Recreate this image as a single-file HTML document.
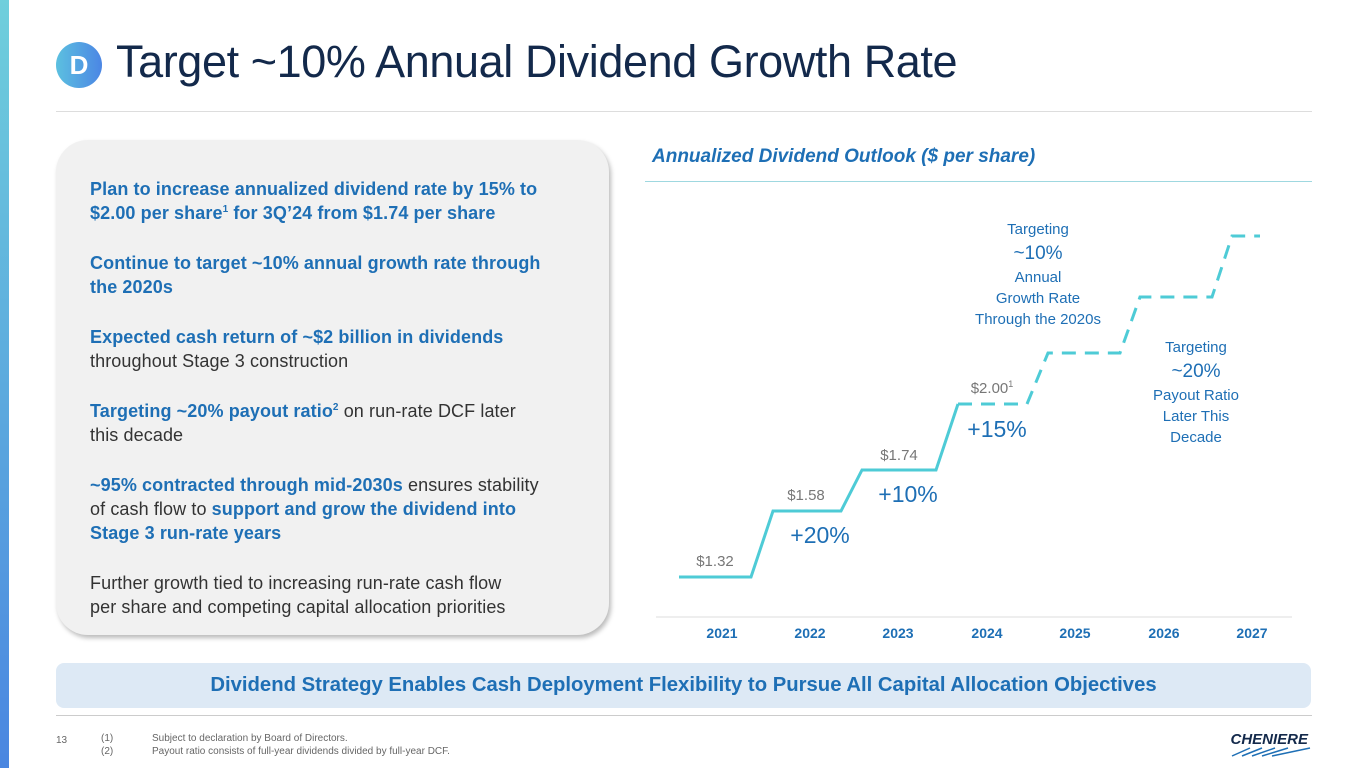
<!DOCTYPE html>
<html><head><meta charset="utf-8"><style>
body{margin:0;width:1365px;height:768px;overflow:hidden;background:#fff;font-family:"Liberation Sans",sans-serif;position:relative}
.a{position:absolute}
.bar{left:0;top:0;width:9px;height:768px;background:linear-gradient(#6fcfdc,#4a86e0)}
.title{left:116px;top:36px;font-size:45px;color:#13294b;letter-spacing:-0.4px}
.badge{left:56px;top:42px;width:46px;height:46px;border-radius:50%;background:linear-gradient(90deg,#5cc0e0,#4b86e4);color:#fff;font-size:26px;font-weight:bold;text-align:center;line-height:46px}
.hr{left:56px;top:111px;width:1256px;height:1px;background:#ddd}
.box{left:56px;top:140px;width:553px;height:495px;border-radius:32px;background:#f1f1f1;box-shadow:2px 3px 5px #bbb}
.txt{left:90px;top:177px;width:520px;font-size:18px;line-height:24px;color:#333;white-space:nowrap;letter-spacing:0.1px}
.txt b{color:#1e6fb5}
.txt p{margin:0 0 26px}
.ct{left:652px;top:146px;font-size:19px;font-style:italic;font-weight:bold;color:#1e6fb5}
.chr{left:645px;top:181px;width:667px;height:1px;background:#9fd8e0}
.foot{left:56px;top:663px;width:1255px;height:45px;border-radius:8px;background:#dde9f5;text-align:center;line-height:45px;color:#1e6fb5;font-weight:bold;font-size:20.3px}
.hr2{left:56px;top:715px;width:1256px;height:1px;background:#ccc}
.note{font-size:10px;color:#666}
sup{font-size:10px;line-height:0}
</style></head><body>
<div class="a bar"></div>
<div class="a badge">D</div>
<div class="a title">Target ~10% Annual Dividend Growth Rate</div>
<div class="a hr"></div>
<div class="a box"></div>
<div class="a txt">
<p><b>Plan to increase annualized dividend rate by 15% to<br>$2.00 per share<sup>1</sup> for 3Q’24 from $1.74 per share</b></p>
<p><b>Continue to target ~10% annual growth rate through<br>the 2020s</b></p>
<p><b>Expected cash return of ~$2 billion in dividends</b><br>throughout Stage 3 construction</p>
<p><b>Targeting ~20% payout ratio<sup>2</sup></b> on run-rate DCF later<br>this decade</p>
<p><b>~95% contracted through mid-2030s</b> ensures stability<br>of cash flow to <b>support and grow the dividend into<br>Stage 3 run-rate years</b></p>
<p>Further growth tied to increasing run-rate cash flow<br>per share and competing capital allocation priorities</p>
</div>
<div class="a ct">Annualized Dividend Outlook ($ per share)</div>
<div class="a chr"></div>
<svg class="a" style="left:0;top:0" width="1365" height="768">
<polyline points="679,577 751,577 773,511 841,511 862,470 936,470 958,404" fill="none" stroke="#4ecbd6" stroke-width="3"/>
<polyline points="958,404 1027,404 1048,353 1120,353 1140,297 1212,297 1232,236 1260,236" fill="none" stroke="#4ecbd6" stroke-width="3" stroke-dasharray="14,9"/>
<line x1="656" y1="617" x2="1292" y2="617" stroke="#ddd"/>
<g font-size="14" fill="#1e6fb5" font-weight="bold" text-anchor="middle">
<text x="722" y="638">2021</text><text x="810" y="638">2022</text><text x="898" y="638">2023</text><text x="987" y="638">2024</text><text x="1075" y="638">2025</text><text x="1164" y="638">2026</text><text x="1252" y="638">2027</text></g>
<g font-size="15" fill="#777" text-anchor="middle">
<text x="715" y="566">$1.32</text><text x="806" y="500">$1.58</text><text x="899" y="460">$1.74</text><text x="992" y="393">$2.00<tspan font-size="9" dy="-6">1</tspan></text></g>
<g font-size="23" fill="#1e6fb5" text-anchor="middle">
<text x="820" y="543">+20%</text><text x="908" y="502">+10%</text><text x="997" y="437">+15%</text></g>
<g font-size="15" fill="#1e6fb5" text-anchor="middle">
<text x="1038" y="234">Targeting</text><text x="1038" y="259" font-size="19">~10%</text><text x="1038" y="282">Annual</text><text x="1038" y="303">Growth Rate</text><text x="1038" y="324">Through the 2020s</text>
<text x="1196" y="352">Targeting</text><text x="1196" y="377" font-size="19">~20%</text><text x="1196" y="400">Payout Ratio</text><text x="1196" y="421">Later This</text><text x="1196" y="442">Decade</text></g>
<text x="1308" y="744" font-size="15" font-weight="bold" font-style="italic" fill="#13294b" text-anchor="end">CHENIERE</text>
<g stroke="#1e6fb5" stroke-width="1.5"><line x1="1232" y1="756" x2="1250" y2="748"/><line x1="1242" y1="756" x2="1262" y2="748"/><line x1="1252" y1="756" x2="1275" y2="748"/><line x1="1262" y1="756" x2="1288" y2="748"/><line x1="1272" y1="756" x2="1310" y2="748"/></g>
</svg>
<div class="a foot">Dividend Strategy Enables Cash Deployment Flexibility to Pursue All Capital Allocation Objectives</div>
<div class="a hr2"></div>
<div class="a note" style="left:56px;top:735px">13</div>
<div class="a note" style="left:101px;top:732px;line-height:13px">(1)<br>(2)</div>
<div class="a note" style="left:152px;top:732px;line-height:13px">Subject to declaration by Board of Directors.<br>Payout ratio consists of full-year dividends divided by full-year DCF.</div>
</body></html>
